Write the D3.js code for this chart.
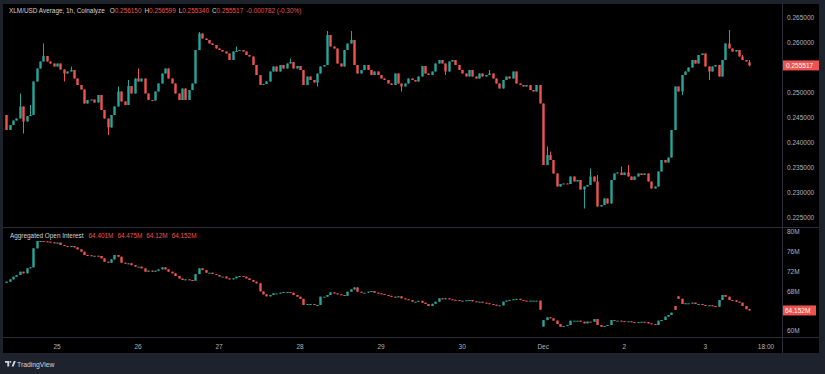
<!DOCTYPE html>
<html>
<head>
<meta charset="utf-8">
<script src="https://cdn.jsdelivr.net/npm/d3@7"></script>
<style>
html, body { margin: 0; padding: 0; background: #1e222d; }
svg { display: block; }
text { font-family: "Liberation Sans", Arial, sans-serif; }
</style>
</head>
<body>
<div id="chart"></div>
<script>
// hourly candles, first one is Nov 24 09:00
var priceFirstOpen = 0.2456;
var priceClose = [
  0.2426, 0.2436, 0.2445, 0.2449, 0.2473, 0.2443, 0.2454, 0.2456, 0.2523, 0.2549,
  0.2563, 0.2574, 0.2563, 0.2559, 0.2553, 0.2559, 0.2547, 0.2539, 0.2543, 0.2546,
  0.2529, 0.2516, 0.2507, 0.2479, 0.2486, 0.2487, 0.2481, 0.2496, 0.2466, 0.2449,
  0.2431, 0.2456, 0.2473, 0.2503, 0.2483, 0.2476, 0.2514, 0.2499, 0.2529, 0.2523,
  0.2529, 0.2499, 0.2486, 0.2485, 0.2503, 0.2519, 0.2539, 0.2549, 0.2529, 0.2519,
  0.2499, 0.2486, 0.2509, 0.2486, 0.2506, 0.2519, 0.2586, 0.2619, 0.2609, 0.2606,
  0.2599, 0.2596, 0.2589, 0.2586, 0.2583, 0.2579, 0.2566, 0.2583, 0.2584, 0.2586,
  0.2583, 0.2576, 0.2573, 0.2556, 0.2536, 0.2516, 0.2518, 0.2523, 0.2543, 0.2553,
  0.2543, 0.2556, 0.2549, 0.2559, 0.2562, 0.2549, 0.2554, 0.2546, 0.2516, 0.2533,
  0.2526, 0.2521, 0.2539, 0.2553, 0.2556, 0.2616, 0.2593, 0.2589, 0.2559, 0.2553,
  0.2586, 0.2599, 0.2606, 0.2556, 0.2539, 0.2546, 0.2556, 0.2546, 0.2536, 0.2543,
  0.2536, 0.2529, 0.2526, 0.2519, 0.2516, 0.2539, 0.2519, 0.2513, 0.2519, 0.2529,
  0.2526, 0.2523, 0.2533, 0.2554, 0.2539, 0.2536, 0.2543, 0.2559, 0.2566, 0.2559,
  0.2543, 0.2563, 0.2566, 0.2556, 0.2546, 0.2539, 0.2533, 0.2546, 0.2533, 0.2529,
  0.2539, 0.2533, 0.2536, 0.2539, 0.2529, 0.2519, 0.2509, 0.2526, 0.2533, 0.2529,
  0.2543, 0.2519, 0.2516, 0.2513, 0.2516, 0.2506, 0.2503, 0.2516, 0.2479, 0.2356,
  0.2376, 0.2366, 0.2339, 0.2313, 0.2318, 0.2319, 0.2318, 0.2333, 0.2323, 0.2326,
  0.2307, 0.2313, 0.2316, 0.2333, 0.2323, 0.2273, 0.2276, 0.2289, 0.2279, 0.2326,
  0.2339, 0.2341, 0.2336, 0.2341, 0.2333, 0.2326, 0.2333, 0.2339, 0.2336, 0.2339,
  0.2323, 0.2309, 0.2313, 0.2343, 0.2366, 0.2361, 0.2371, 0.2426, 0.2513, 0.2503,
  0.2536, 0.2543, 0.2551, 0.2566, 0.2559, 0.2576, 0.2579, 0.2553, 0.2543, 0.2553,
  0.2556, 0.2533, 0.2566, 0.2599, 0.2589, 0.2583, 0.2586, 0.2573, 0.2566, 0.256299,
  0.255517
];
// candles that open away from the previous close
var priceOpenGap = {220: 0.25615};
// wicks that reach past the body (index -> price)
var priceHigh = {4: 0.2499, 7: 0.2476, 11: 0.2599, 19: 0.2553, 33: 0.2513, 36: 0.2526, 39: 0.2549,
  57: 0.2622, 68: 0.2593, 84: 0.2569, 95: 0.2624, 102: 0.2624, 143: 0.2546, 160: 0.2393,
  161: 0.2383, 173: 0.2349, 175: 0.2336, 182: 0.2353, 184: 0.2356, 214: 0.2626, 218: 0.2576,
  220: 0.256599};
var priceLow = {5: 0.2419, 17: 0.2523, 30: 0.2416, 92: 0.2513, 117: 0.2503, 130: 0.2536,
  171: 0.2269, 200: 0.2496, 208: 0.2526, 220: 0.25534};
var priceChangeText = "-0.000782 (-0.30%)";

// aggregated open interest, millions
var oiFirstOpen = 69.7;
var oiClose = [
  69.96, 70.43, 70.97, 71.31, 71.98, 71.65, 72.66, 72.86, 76.70, 78.18,
  78.18, 78.1, 78.04, 77.9, 77.71, 77.85, 77.37, 77.17, 77.03, 77.17,
  76.90, 76.49, 76.02, 75.35, 75.3, 75.2, 75.2, 75.15, 74.68, 74.0,
  73.8, 74.47, 75.35, 75.0, 73.8, 73.6, 73.67, 73.3, 73.0, 73.0,
  72.66, 71.98, 72.2, 71.98, 72.18, 72.45, 72.86, 72.45, 71.98, 71.65,
  71.11, 70.6, 70.3, 70.43, 70.3, 70.16, 71.5, 72.66, 72.3, 71.78,
  71.78, 71.5, 71.31, 71.0, 71.0, 70.64, 70.43, 70.64, 70.97, 71.11,
  70.97, 70.64, 70.3, 69.96, 69.63, 68.0, 67.4, 67.0, 67.27, 67.6,
  67.6, 67.74, 67.87, 67.87, 67.74, 67.27, 66.93, 66.5, 65.25, 65.45,
  65.45, 65.25, 65.25, 66.93, 66.93, 67.27, 67.8, 67.6, 67.4, 67.27,
  67.1, 67.94, 68.4, 68.8, 67.94, 67.74, 67.74, 67.94, 68.08, 67.74,
  67.6, 67.47, 67.27, 67.1, 66.93, 66.8, 67.0, 66.6, 66.4, 66.26,
  65.92, 65.92, 66.1, 65.72, 65.45, 65.05, 65.5, 65.92, 66.6, 66.4,
  66.6, 66.4, 66.3, 66.26, 66.13, 66.13, 66.2, 66.26, 66.0, 65.92,
  65.92, 65.72, 65.6, 65.45, 65.3, 65.15, 65.18, 65.92, 66.13, 66.26,
  66.4, 66.5, 66.26, 66.13, 66.08, 66.13, 66.13, 66.13, 64.3, 62.2,
  62.76, 62.56, 62.1, 61.4, 60.87, 61.0, 61.2, 62.08, 62.08, 62.08,
  61.88, 61.54, 61.9, 61.88, 62.4, 61.21, 60.87, 61.01, 61.21, 62.2,
  62.08, 62.08, 62.0, 61.95, 61.95, 61.8, 61.75, 61.8, 61.85, 61.8,
  61.54, 61.4, 61.21, 62.08, 62.22, 62.9, 63.23, 63.7, 64.3, 66.5,
  65.45, 65.6, 65.6, 65.72, 65.45, 65.45, 65.25, 65.05, 65.2, 65.05,
  64.91, 66.26, 67.27, 66.93, 66.26, 66.2, 65.92, 65.72, 65.05, 64.401,
  64.152
];
var oiOpenGap = {159: 60.9, 198: 65.05, 199: 67.0};
var oiHigh = {220: 64.475};
var oiLow = {220: 64.12};

var priceTicks = [0.225, 0.23, 0.235, 0.24, 0.245, 0.25, 0.26, 0.265];
var oiTicks = [60, 68, 72, 76, 80];
var dayTicks = [
  Date.UTC(2025, 10, 25), Date.UTC(2025, 10, 26), Date.UTC(2025, 10, 27), Date.UTC(2025, 10, 28),
  Date.UTC(2025, 10, 29), Date.UTC(2025, 10, 30), Date.UTC(2025, 11, 1), Date.UTC(2025, 11, 2),
  Date.UTC(2025, 11, 3), Date.UTC(2025, 11, 3, 18)
];
var dayLabels = ["25", "26", "27", "28", "29", "30", "Dec", "2", "3", "18:00"];

var width = 825, height = 374;
var up = "#26a69a", down = "#ef5350";
var axisX = 782;
var t0 = Date.UTC(2025, 10, 24, 9), HOUR = 3600e3;

var svg = d3.select("#chart").append("svg")
    .attr("width", width)
    .attr("height", height);

svg.append("rect").attr("width", width).attr("height", height).attr("fill", "#1e222d");
svg.append("rect").attr("x", 3).attr("y", 4).attr("width", 816).attr("height", 349).attr("fill", "#000");

var x = d3.scaleUtc()
    .domain([new Date(dayTicks[0]), new Date(dayTicks[9])])
    .range([57, 766]);
var yP = d3.scaleLinear().domain([0.225, 0.265]).range([218, 18]);
var yO = d3.scaleLinear().domain([60, 80]).range([331, 232]);

function build(closes, firstOpen, gaps, highs, lows) {
    return closes.map(function (c, i) {
        var o = i === 0 ? firstOpen : (gaps[i] != null ? gaps[i] : closes[i - 1]);
        var h = Math.max(o, c, highs[i] != null ? highs[i] : -Infinity);
        var l = Math.min(o, c, lows[i] != null ? lows[i] : Infinity);
        return {t: new Date(t0 + i * HOUR), o: o, h: h, l: l, c: c};
    });
}

var priceData = build(priceClose, priceFirstOpen, priceOpenGap, priceHigh, priceLow);
var oiData = build(oiClose, oiFirstOpen, oiOpenGap, oiHigh, oiLow);

svg.append("clipPath").attr("id", "plotclip")
  .append("rect").attr("x", 3).attr("y", 4).attr("width", axisX - 3).attr("height", 334);

function drawCandles(data, y, bw) {
    var g = svg.append("g").attr("clip-path", "url(#plotclip)");
    var c = g.selectAll("g").data(data).enter().append("g");
    c.append("line")
        .attr("x1", function (d) { return Math.round(x(d.t)) + 0.5; })
        .attr("x2", function (d) { return Math.round(x(d.t)) + 0.5; })
        .attr("y1", function (d) { return y(d.h); })
        .attr("y2", function (d) { return y(d.l); })
        .attr("stroke", function (d) { return d.c >= d.o ? up : down; })
        .attr("stroke-width", 1);
    c.append("rect")
        .attr("x", function (d) { return Math.round(x(d.t)) + 0.5 - bw / 2; })
        .attr("width", bw)
        .attr("y", function (d) { return Math.min(y(d.o), y(d.c)); })
        .attr("height", function (d) { return Math.max(1, Math.abs(y(d.o) - y(d.c))); })
        .attr("fill", function (d) { return d.c >= d.o ? up : down; });
}

drawCandles(priceData, yP, 2.4);
drawCandles(oiData, yO, 2.4);

// separators
var lineCol = "#2a2e39";
svg.append("line").attr("x1", 3).attr("x2", 819).attr("y1", 227.5).attr("y2", 227.5).attr("stroke", lineCol);
svg.append("line").attr("x1", 3).attr("x2", 819).attr("y1", 337.5).attr("y2", 337.5).attr("stroke", lineCol);
svg.append("line").attr("x1", axisX + 0.5).attr("x2", axisX + 0.5).attr("y1", 4).attr("y2", 353).attr("stroke", lineCol);

var axisText = "#b2b5be";
// price axis
svg.append("g").selectAll("text").data(priceTicks).enter().append("text")
    .attr("x", 787).attr("y", function (d) { return yP(d); }).attr("dy", "0.35em")
    .attr("font-size", 6.5).attr("fill", axisText)
    .text(function (d) { return d.toFixed(6); });

var lastP = priceClose[priceClose.length - 1];
svg.append("rect").attr("x", axisX + 1).attr("y", yP(lastP) - 5).attr("width", 36).attr("height", 10).attr("fill", down);
svg.append("text").attr("x", 786).attr("y", yP(lastP)).attr("dy", "0.35em")
    .attr("font-size", 6.5).attr("fill", "#fff").text(lastP.toFixed(6));

// open interest axis
svg.append("g").selectAll("text").data(oiTicks).enter().append("text")
    .attr("x", 787).attr("y", function (d) { return yO(d); }).attr("dy", "0.35em")
    .attr("font-size", 6.5).attr("fill", axisText)
    .text(function (d) { return d + "M"; });

var lastO = oiClose[oiClose.length - 1];
svg.append("rect").attr("x", axisX + 1).attr("y", yO(lastO) - 5).attr("width", 33).attr("height", 10).attr("fill", down);
svg.append("text").attr("x", 785).attr("y", yO(lastO)).attr("dy", "0.35em")
    .attr("font-size", 6.5).attr("fill", "#fff").text(lastO.toFixed(3) + "M");

// time axis
svg.append("g").selectAll("text").data(dayTicks).enter().append("text")
    .attr("x", function (d) { return x(new Date(d)); }).attr("y", 349)
    .attr("text-anchor", "middle").attr("font-size", 6.5).attr("fill", axisText)
    .text(function (d, i) { return dayLabels[i]; });

// legends
var last = priceData[priceData.length - 1];
var head = svg.append("text").attr("x", 9).attr("y", 13).attr("font-size", 6.4).attr("fill", "#d1d4dc");
head.append("tspan").text("XLM/USD Average, 1h, Coinalyze");
[["O", last.o], ["H", last.h], ["L", last.l], ["C", last.c]].forEach(function (p, i) {
    head.append("tspan").attr("dx", i === 0 ? 5 : 3).attr("fill", "#d1d4dc").text(p[0]);
    head.append("tspan").attr("fill", down).text(p[1].toFixed(6));
});
head.append("tspan").attr("dx", 3).attr("fill", down).text(priceChangeText);

var lastOi = oiData[oiData.length - 1];
var oiHead = svg.append("text").attr("x", 10).attr("y", 238).attr("font-size", 6.4).attr("fill", "#d1d4dc");
oiHead.append("tspan").text("Aggregated Open Interest");
[lastOi.o.toFixed(3) + "M", lastOi.h.toFixed(3) + "M", lastOi.l.toFixed(2) + "M", lastOi.c.toFixed(3) + "M"].forEach(function (s, i) {
    oiHead.append("tspan").attr("dx", i === 0 ? 5 : 4).attr("fill", down).text(s);
});

// footer logo
var logo = svg.append("g").attr("transform", "translate(5,361)").attr("fill", "#d1d4dc");
logo.append("path").attr("d", "M0,0H4.2V5.5H2.3V1.8H0Z");
logo.append("circle").attr("cx", 5.4).attr("cy", 0.9).attr("r", 0.9);
logo.append("path").attr("d", "M6.6,5.5L8.8,0H10.8L8.6,5.5Z");
svg.append("text").attr("x", 17).attr("y", 366.5).attr("font-size", 6.8).attr("fill", "#d1d4dc").text("TradingView");
</script>
</body>
</html>
